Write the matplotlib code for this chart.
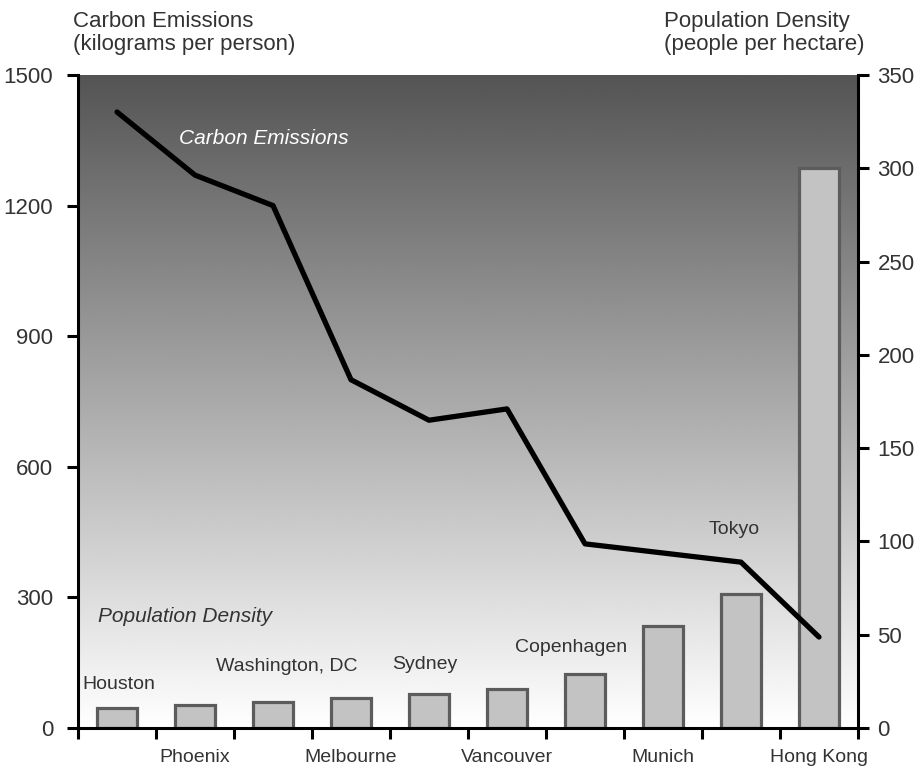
import matplotlib
matplotlib.use("Agg")
import matplotlib.pyplot as plt
import numpy as np

cities = ["Houston", "Phoenix", "Washington, DC", "Melbourne", "Sydney",
          "Vancouver", "Copenhagen", "Munich", "Tokyo", "Hong Kong"]
carbon = [1415, 1270, 1200, 800, 707, 733, 423, 402, 381, 209]
density = [10.5, 12.5, 14, 16, 18, 21, 29, 54.5, 72, 300]

left_ticks = [0, 300, 600, 900, 1200, 1500]
right_ticks = [0, 50, 100, 150, 200, 250, 300, 350]

plt.rcParams['font.family'] = ['Liberation Sans', 'DejaVu Sans']
txt = '#333333'

fig = plt.figure(figsize=(9.19, 7.73), dpi=100)
ax = fig.add_axes([0.0849, 0.0582, 0.8487, 0.8448])
ax2 = ax.twinx()

x = np.arange(len(cities))
ax.set_xlim(-0.5, 9.5)
ax.set_ylim(0, 1500)
ax2.set_xlim(-0.5, 9.5)
ax2.set_ylim(0, 350)

# line axis goes in front of the bar axis
ax.set_zorder(ax2.get_zorder() + 1)
ax.patch.set_visible(False)
ax2.patch.set_visible(False)

# background fade: dark at the top, white at the bottom
grad = np.linspace(0.33, 1.0, 256).reshape(-1, 1)
ax2.imshow(grad, cmap='gray', vmin=0, vmax=1, aspect='auto',
           extent=[0, 1, 0, 1], transform=ax2.transAxes, origin='upper', zorder=0)

ax2.bar(x, density, width=0.51, color='#c3c3c3', edgecolor='#5c5c5c',
        linewidth=2.3, zorder=2)
ax.plot(x, carbon, color='black', lw=3.8, solid_capstyle='round', zorder=3)

for a in (ax, ax2):
    a.spines['top'].set_visible(False)
    for s in ('left', 'right', 'bottom'):
        a.spines[s].set_linewidth(2.2)
ax.spines['right'].set_visible(False)
ax2.spines['left'].set_visible(False)
ax2.spines['bottom'].set_visible(False)

ax.set_yticks(left_ticks)
ax.set_yticklabels([str(v) for v in left_ticks])
ax2.set_yticks(right_ticks)
ax2.set_yticklabels([str(v) for v in right_ticks])
ax.tick_params(axis='y', length=8, width=2.2, pad=10, labelsize=16, labelcolor=txt)
ax2.tick_params(axis='y', length=8, width=2.2, pad=6, labelsize=16, labelcolor=txt)

# boundary ticks, with every other city named under the axis
ax.set_xticks(np.arange(-0.5, 10, 1), minor=True)
ax.tick_params(axis='x', which='minor', length=8, width=2.2)
ax.set_xticks(x)
ax.set_xticklabels([c if i % 2 else "" for i, c in enumerate(cities)])
ax.tick_params(axis='x', which='major', length=0, pad=15, labelsize=14, labelcolor=txt)

# the rest of the city names sit above their bars
above = {0: (-0.44, 101, 'left'), 2: (0.17, 142, 'center'), 4: (-0.05, 145, 'center'),
         6: (-0.18, 184, 'center'), 8: (-0.09, 457, 'center')}
for i, (dx, yv, ha) in above.items():
    ax.text(x[i] + dx, yv, cities[i], fontsize=14, color=txt, ha=ha, va='center')

ax.text(0.8, 1353, "Carbon Emissions", fontsize=15, color='white',
        style='italic', ha='left', va='center')
ax.text(-0.25, 257, "Population Density", fontsize=15, color=txt,
        style='italic', ha='left', va='center')

fig.text(73 / 919, 1 - 11 / 773, "Carbon Emissions\n(kilograms per person)",
         fontsize=16, color=txt, ha='left', va='top', linespacing=1.15)
fig.text(664 / 919, 1 - 11 / 773, "Population Density\n(people per hectare)",
         fontsize=16, color=txt, ha='left', va='top', linespacing=1.15)

fig.savefig("out.png", dpi=100)
